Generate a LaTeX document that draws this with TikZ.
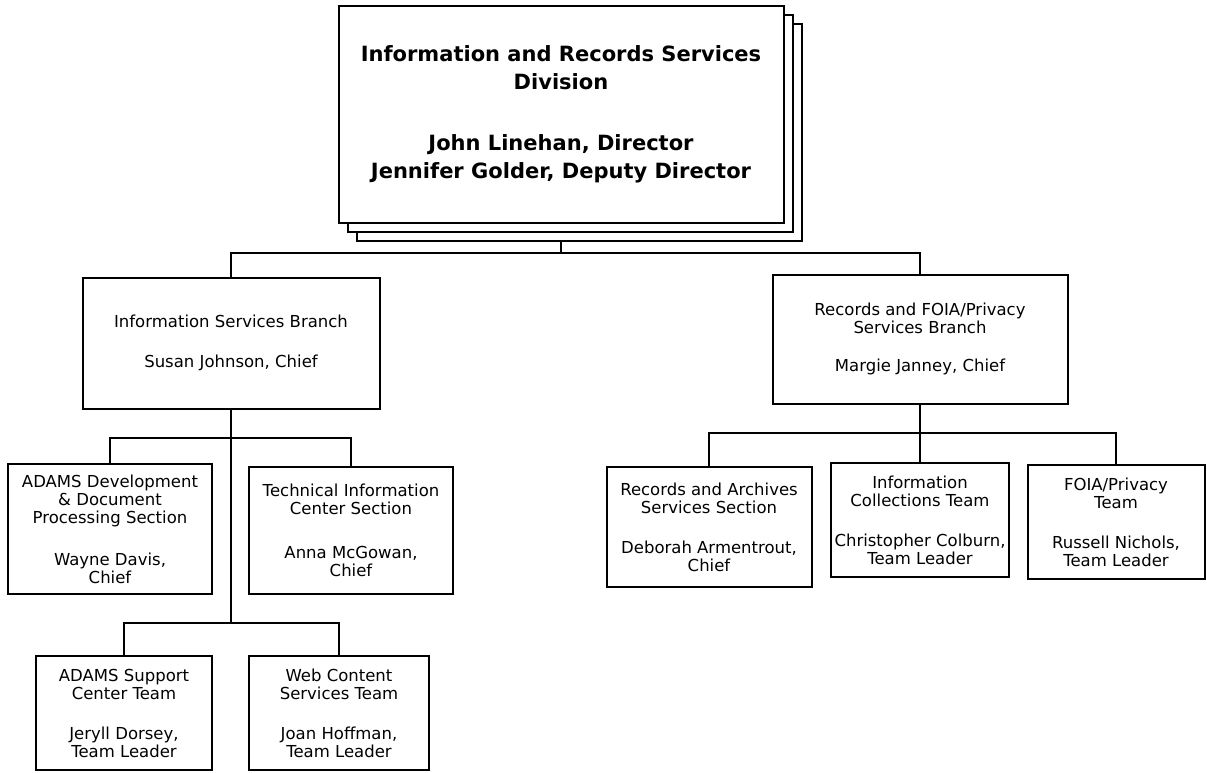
\documentclass[tikz,border=0pt]{standalone}
\usepackage{fontspec}
\setmainfont{DejaVu Sans}
\begin{document}
\begin{tikzpicture}[x=1pt,y=-1pt,
  orgbox/.style={draw, line width=2pt, fill=white, inner sep=0pt, align=center,
    font=\fontsize{16.5}{18}\selectfont},
  topbox/.style={draw, line width=2pt, fill=white, inner sep=0pt, align=center,
    minimum width=445pt, minimum height=217pt, font=\bfseries\fontsize{21}{28}\selectfont},
  orglink/.style={draw, line width=2pt}]
\useasboundingbox[fill=white] (0,0) rectangle (1207,772);
% top division stack
\node[topbox] (top3) at (579,132) {};
\node[topbox] (top2) at (570,123) {};
\node[topbox] (top1) at (561,114) {Information and Records Services\\Division\\[33pt]John Linehan, Director\\Jennifer Golder, Deputy Director};
% branches
\node[orgbox, minimum width=297pt, minimum height=131pt] (isb) at (231,343) {Information Services Branch\\[22pt]Susan Johnson, Chief};
\node[orgbox, minimum width=295pt, minimum height=129pt] (rfb) at (920,339) {Records and FOIA/Privacy\\Services Branch\\[20pt]Margie Janney, Chief};
% left sections
\node[orgbox, minimum width=204pt, minimum height=130pt] (adev) at (110,529) {ADAMS Development\\\& Document\\Processing Section\\[24pt]Wayne Davis,\\Chief};
\node[orgbox, minimum width=204pt, minimum height=127pt] (tic) at (351,530) {Technical Information\\Center Section\\[26pt]Anna McGowan,\\Chief};
\node[orgbox, minimum width=176pt, minimum height=114pt] (asup) at (124,713) {ADAMS Support\\Center Team\\[22pt]Jeryll Dorsey,\\Team Leader};
\node[orgbox, minimum width=180pt, minimum height=114pt] (web) at (339,713) {Web Content\\Services Team\\[22pt]Joan Hoffman,\\Team Leader};
% right sections
\node[orgbox, minimum width=205pt, minimum height=120pt] (rar) at (709,527) {Records and Archives\\Services Section\\[22pt]Deborah Armentrout,\\Chief};
\node[orgbox, minimum width=178pt, minimum height=114pt] (ict) at (920,520) {Information\\Collections Team\\[22pt]Christopher Colburn,\\Team Leader};
\node[orgbox, minimum width=177pt, minimum height=114pt] (foia) at (1116,522) {FOIA/Privacy\\Team\\[22pt]Russell Nichols,\\Team Leader};
% connectors
\coordinate (bus0) at (561,253);
\coordinate (busA) at (231,438);
\coordinate (busB) at (231,623);
\coordinate (busC) at (920,433);
\path[orglink] (top3.south -| top1.center) -- (bus0);
\path[orglink] (isb.north) |- (bus0) -| (rfb.north);
\path[orglink] (isb.south) -- (busB);
\path[orglink] (adev.north) |- (busA) -| (tic.north);
\path[orglink] (asup.north) |- (busB) -| (web.north);
\path[orglink] (rfb.south) -- (busC);
\path[orglink] (rar.north) |- (busC) -| (foia.north);
\path[orglink] (ict.north) -- (busC);
\end{tikzpicture}
\end{document}
